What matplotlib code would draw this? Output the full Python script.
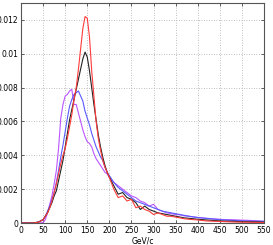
import matplotlib
matplotlib.use("Agg")
import matplotlib.pyplot as plt
from matplotlib.ticker import FixedLocator, FixedFormatter

x = [0, 10, 20, 30, 40,
     50, 55, 60, 65, 70, 75, 80, 85, 90, 95, 100, 105, 110, 115, 120, 125, 130, 135, 140, 145,
     150, 155, 160, 165, 170, 175, 180, 185, 190, 195, 200,
     210, 220, 230, 240, 250, 260, 270, 280, 290, 300, 310, 320, 330, 340, 350, 360, 370, 380, 390, 400,
     420, 440, 460, 480, 500, 520, 540, 550]

red = [0, 0, 0, 0.00001, 0.00005,
       0.0002, 0.0004, 0.0006, 0.0009, 0.0013, 0.0018, 0.0023, 0.0029, 0.0035, 0.0040, 0.0044, 0.0050, 0.0057, 0.0064, 0.0073, 0.0080, 0.0091, 0.0103, 0.0115, 0.0122,
       0.0121, 0.0110, 0.0090, 0.0075, 0.0060, 0.0050, 0.0043, 0.0037, 0.0033, 0.0030, 0.0027,
       0.0020, 0.0015, 0.0016, 0.0013, 0.0014, 0.0009, 0.0010, 0.0008, 0.0007, 0.0005, 0.0006, 0.0005, 0.0004, 0.0004, 0.00035, 0.0003, 0.00025, 0.00022, 0.0002, 0.00018,
       0.00012, 0.0001, 0.00008, 0.00006, 0.00005, 0.00004, 0.00003, 0.00003]

black = [0, 0, 0, 0.00001, 0.00006,
         0.0002, 0.0004, 0.0006, 0.0009, 0.0012, 0.0016, 0.0019, 0.0025, 0.0031, 0.0037, 0.0045, 0.0053, 0.0061, 0.0067, 0.0073, 0.0079, 0.0085, 0.0091, 0.0097, 0.0101,
         0.0098, 0.0090, 0.0080, 0.0070, 0.0061, 0.0052, 0.0045, 0.0039, 0.0034, 0.0030, 0.0027,
         0.0022, 0.0017, 0.0018, 0.0015, 0.0014, 0.0012, 0.0008, 0.0010, 0.0008, 0.0007, 0.0006, 0.00055, 0.0005, 0.00045, 0.0004, 0.00035, 0.0003, 0.00028, 0.00025, 0.00022,
         0.00018, 0.00014, 0.00011, 0.0001, 0.00008, 0.00007, 0.00006, 0.00005]

blue = [0, 0, 0, 0.00001, 0.00006,
        0.0002, 0.0004, 0.0007, 0.0010, 0.0014, 0.0018, 0.0024, 0.0031, 0.0039, 0.0046, 0.0054, 0.0062, 0.0069, 0.0073, 0.0076, 0.0077, 0.0078, 0.0075, 0.0072, 0.0066,
        0.0062, 0.0058, 0.0053, 0.0049, 0.0045, 0.0042, 0.0039, 0.0037, 0.0033, 0.0030, 0.0028,
        0.0024, 0.0021, 0.0019, 0.0017, 0.0015, 0.0013, 0.0012, 0.0011, 0.0010, 0.0009, 0.0008, 0.0007, 0.00065, 0.0006, 0.00055, 0.0005, 0.00045, 0.0004, 0.00036, 0.00032,
        0.00027, 0.00022, 0.00018, 0.00015, 0.00013, 0.00011, 0.0001, 0.0001]

purple = [0, 0, 0, 0, 0,
          0.00002, 0.0002, 0.0006, 0.0011, 0.0016, 0.0023, 0.0031, 0.0044, 0.0062, 0.0070, 0.0075, 0.0076, 0.0078, 0.0079, 0.0070, 0.0070, 0.0065, 0.0060, 0.0055, 0.0051,
          0.0048, 0.0047, 0.0045, 0.0041, 0.0038, 0.0036, 0.0034, 0.0032, 0.0030, 0.0029, 0.0027,
          0.0024, 0.0022, 0.0020, 0.0018, 0.0016, 0.0015, 0.0013, 0.0012, 0.0010, 0.0011, 0.0008, 0.0007, 0.0006, 0.00055, 0.0005, 0.00048, 0.00042, 0.0004, 0.00036, 0.00033,
          0.00028, 0.00024, 0.0002, 0.00019, 0.00017, 0.00015, 0.00012, 0.0001]

xticks = [0, 50, 100, 150, 200, 250, 300, 350, 400, 450, 500, 550]
xticklabels = ["0", "50", "100", "150", "200", "250", "300", "350", "400", "450", "500", "550"]
yticks = [0, 0.002, 0.004, 0.006, 0.008, 0.01, 0.012]
yticklabels = ["0", "0.002", "0.004", "0.006", "0.008", "0.01", "0.012"]

fig = plt.figure(figsize=(2.73, 2.45), dpi=100)
ax = fig.add_axes([21/273, 1-223/245, 243/273, 220/245])

ax.plot(x, purple, color="#bb55ff", lw=0.8)
ax.plot(x, blue, color="#5a5aff", lw=0.8)
ax.plot(x, black, color="#222222", lw=0.8)
ax.plot(x, red, color="#ff3b3b", lw=0.8)

ax.set_xlim(0, 550)
ax.set_ylim(0, 0.013)
ax.xaxis.set_major_locator(FixedLocator(xticks))
ax.xaxis.set_major_formatter(FixedFormatter(xticklabels))
ax.yaxis.set_major_locator(FixedLocator(yticks))
ax.yaxis.set_major_formatter(FixedFormatter(yticklabels))
ax.grid(True, linestyle=(0, (1, 2)), color="#aaaaaa", lw=0.6)
ax.tick_params(direction="in", length=2.5, width=0.6, labelsize=5.5, pad=2,
               top=True, right=True, colors="#444444", labelcolor="black")
for s in ax.spines.values():
    s.set_color("#555555")
    s.set_linewidth(0.8)
ax.set_xlabel("GeV/c", fontsize=5.5, labelpad=1)

fig.savefig("out.png", dpi=100)
